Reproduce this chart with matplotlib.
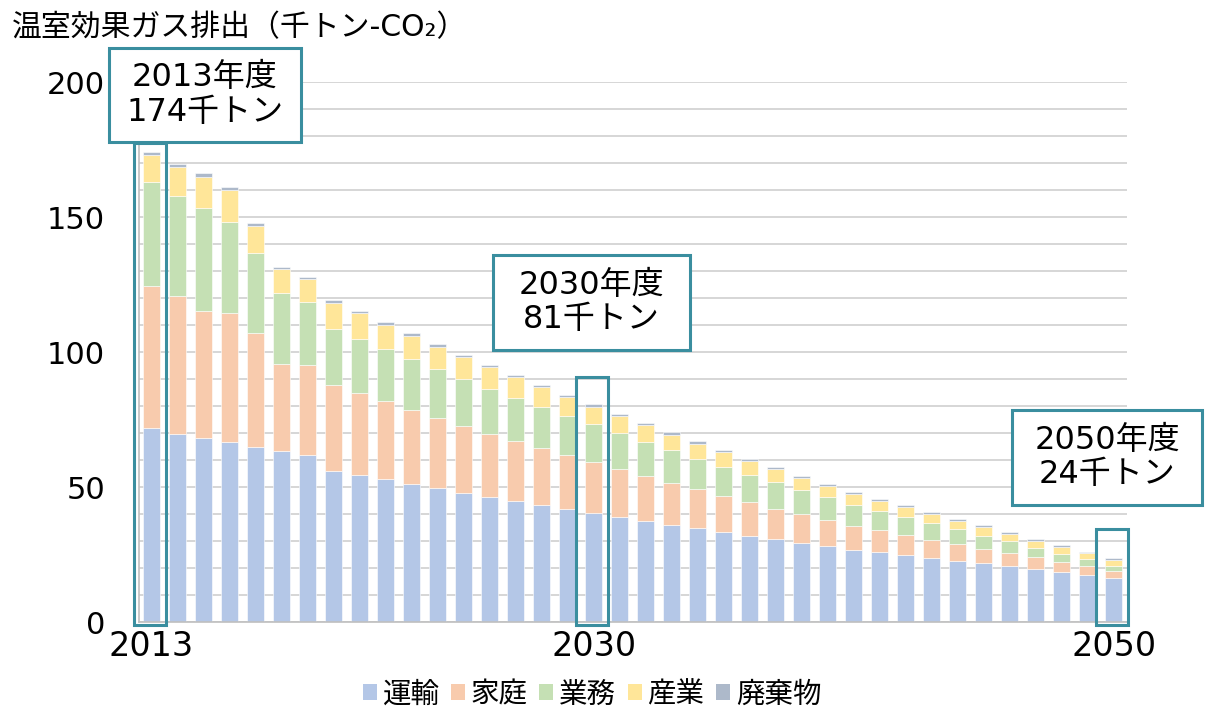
import matplotlib
matplotlib.use("Agg")
import matplotlib.pyplot as plt
from matplotlib.patches import Rectangle, Patch
import numpy as np

# DejaVu for the wide digits, Noto CJK for the Japanese
plt.rcParams['font.family'] = ['DejaVu Sans', 'Noto Sans CJK JP']

# data (千トン-CO2)
years = list(range(2013, 2051))
unyu = [72.0, 69.6, 68.3, 66.5, 64.9, 63.5, 61.7, 56.0, 54.6, 52.8, 51.2, 49.5, 47.9, 46.4,
        44.9, 43.5, 42.0, 40.5, 39.0, 37.5, 36.0, 34.8, 33.5, 32.0, 30.7, 29.4, 28.3, 26.8,
        25.8, 24.8, 23.8, 22.7, 21.7, 20.7, 19.8, 18.6, 17.5, 16.4]
katei = [52.4, 51.3, 46.8, 48.1, 42.0, 32.2, 33.5, 31.7, 30.2, 28.9, 27.4, 26.2, 24.8, 23.4,
         22.1, 20.8, 19.7, 18.6, 17.5, 16.5, 15.4, 14.3, 13.2, 12.3, 11.3, 10.5, 9.4, 8.9,
         8.1, 7.4, 6.7, 6.2, 5.5, 4.9, 4.1, 3.6, 3.1, 2.5]
gyomu = [38.7, 37.0, 38.4, 33.5, 29.9, 26.2, 23.4, 20.9, 20.1, 19.5, 18.9, 17.9, 17.4, 16.6,
         16.1, 15.5, 14.7, 14.1, 13.5, 12.8, 12.2, 11.3, 10.8, 10.3, 9.9, 9.1, 8.5, 7.8,
         7.3, 6.7, 6.0, 5.4, 4.8, 4.3, 3.6, 3.1, 2.6, 2.0]
sangyo = [9.9, 10.7, 11.4, 11.9, 9.9, 8.7, 8.3, 9.5, 9.4, 8.9, 8.5, 8.4, 8.0, 7.9,
          7.5, 7.1, 6.9, 6.6, 6.3, 6.0, 5.8, 5.6, 5.3, 5.0, 4.6, 4.3, 4.2, 4.0,
          3.7, 3.6, 3.5, 3.2, 3.1, 2.7, 2.6, 2.5, 2.2, 2.1]
haiki = [1.0, 1.2, 1.3, 1.0, 0.9, 1.0, 1.0, 1.0, 1.0, 1.0, 1.0, 1.0, 0.9, 0.9,
         0.9, 0.9, 0.9, 0.9, 0.9, 0.9, 0.8, 0.9, 0.9, 0.8, 0.8, 0.8, 0.7, 0.8,
         0.8, 0.7, 0.7, 0.8, 0.7, 0.7, 0.8, 0.7, 0.6, 0.7]

labels = ['運輸', '家庭', '業務', '産業', '廃棄物']
colors = ['#B4C7E7', '#F8CBAD', '#C5E0B4', '#FFE699', '#ADB9CA']

hl_years = [2013, 2030, 2050]
hl_tops = [177.4, 90.6, 34.3]
hl_texts = ['2013年度\n174千トン', '2030年度\n81千トン', '2050年度\n24千トン']

teal = '#3A8E9F'

fig = plt.figure(figsize=(12.08, 7.10), dpi=100)
ax = fig.add_axes([0.1147, 0.1239, 0.8179, 0.7606])

x = np.arange(len(years))
bottom = np.zeros(len(years))
for vals, lab, col in zip([unyu, katei, gyomu, sangyo, haiki], labels, colors):
    ax.bar(x, vals, 0.65, bottom=bottom, color=col, label=lab,
           edgecolor='white', linewidth=0.4, zorder=2)
    bottom += np.array(vals)

ax.set_xlim(-0.5, len(years) - 0.5)
ax.set_ylim(0, 200)
ax.set_yticks([0, 50, 100, 150, 200])
ax.set_yticks(np.arange(0, 201, 10), minor=True)
ax.yaxis.grid(True, which='both', color='#D0D0D0', linewidth=1.2, zorder=0)
ax.tick_params(axis='y', which='both', length=0, labelsize=22, pad=24)
ax.set_xticks([years.index(y) for y in hl_years])
ax.set_xticklabels([str(y) for y in hl_years])
ax.tick_params(axis='x', length=0, labelsize=24, pad=6)
for s in ['top', 'right']:
    ax.spines[s].set_visible(False)
for s in ['left', 'bottom']:
    ax.spines[s].set_color('#BFBFBF')
    ax.spines[s].set_linewidth(1.2)

# highlight frames round the bars
for yr, top in zip(hl_years, hl_tops):
    i = years.index(yr)
    ax.add_patch(Rectangle((i - 0.67, -1.0), 1.21, top + 1.0, fill=False,
                           edgecolor=teal, linewidth=2.2, clip_on=False, zorder=5))

# callout boxes (pixel boxes: left, top, right, bottom)
W, H = 1208, 710
boxes = [(109, 48, 301, 142), (493, 255, 690, 350), (1012, 410, 1202, 505)]
for (l, t, r, b), txt in zip(boxes, hl_texts):
    fig.patches.append(Rectangle((l / W, 1 - b / H), (r - l) / W, (b - t) / H,
                                 transform=fig.transFigure, facecolor='white',
                                 edgecolor=teal, linewidth=2.2, zorder=6))
    fig.text((l + r) / 2 / W, 1 - (t + b) / 2 / H, txt, ha='center', va='center',
             fontsize=23, linespacing=1.15, zorder=7)

fig.text(12 / W, 1 - 28 / H, '温室効果ガス排出（千トン-CO₂）', fontsize=21.5,
         ha='left', va='center')

handles = [Patch(facecolor=c, edgecolor='none') for c in colors]
fig.legend(handles, labels, loc='center', bbox_to_anchor=(0.49, 0.022), ncol=5,
           frameon=False, fontsize=20.5, handlelength=0.5, handleheight=0.5,
           handletextpad=0.2, columnspacing=0.4)

fig.savefig('out.png', dpi=100)
